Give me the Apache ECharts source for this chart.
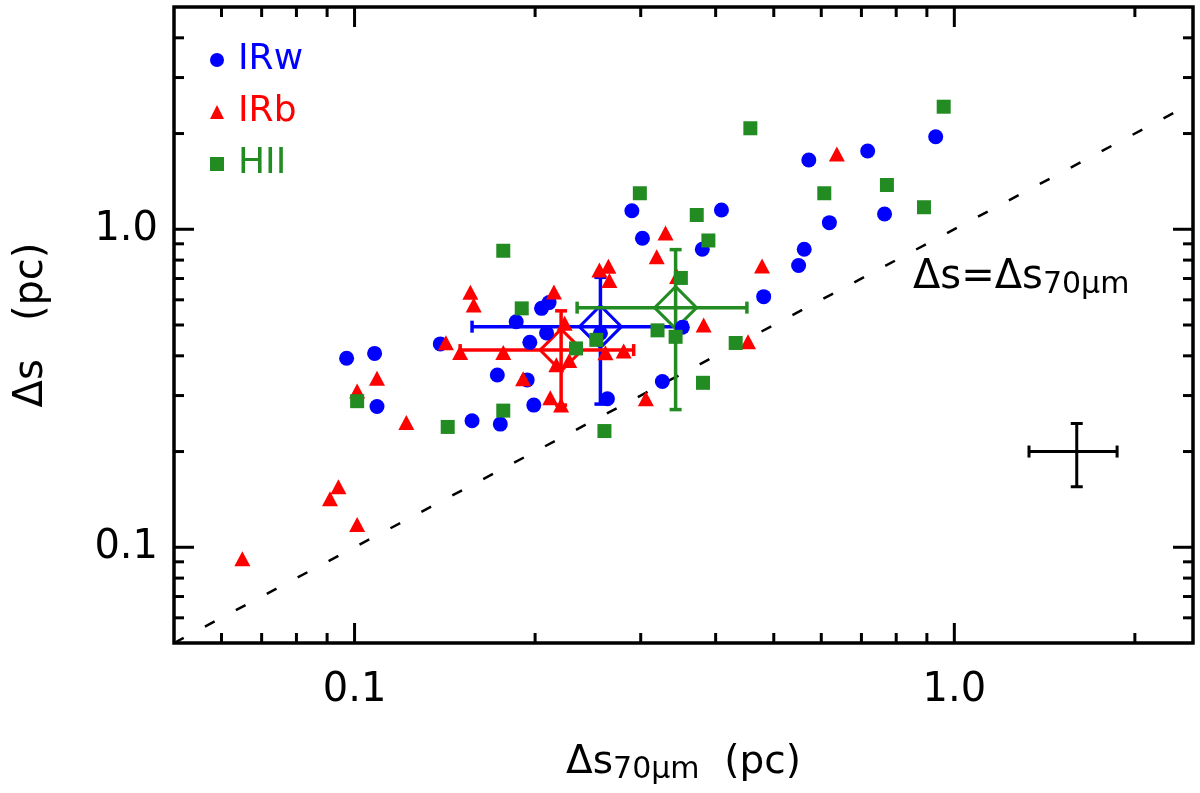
<!DOCTYPE html>
<html><head><meta charset="utf-8">
<script src="https://cdn.jsdelivr.net/npm/echarts@6/dist/echarts.min.js"></script>
<style>html,body{margin:0;padding:0;background:#fff}#c{width:1200px;height:793px}</style>
</head><body><div id="c"></div>
<script>
// ---- data ----
const irwX = [0.097,0.108,0.109,0.139,0.157,0.175,0.173,0.194,0.199,0.186,0.196,0.209,0.205,0.211,0.257,0.264,0.290,0.302,0.380,0.409,0.352,0.326,0.481,0.550,0.562,0.572,0.619,0.717,0.765,0.931];
const irwY = [0.393,0.407,0.277,0.436,0.250,0.244,0.348,0.336,0.280,0.512,0.441,0.472,0.564,0.588,0.471,0.293,1.144,0.937,0.865,1.150,0.492,0.332,0.614,0.769,0.865,1.652,1.049,1.763,1.117,1.955];
const irbX = [0.065,0.091,0.094,0.101,0.101,0.109,0.122,0.142,0.150,0.156,0.158,0.177,0.191,0.212,0.215,0.224,0.217,0.228,0.221,0.256,0.265,0.266,0.262,0.281,0.306,0.319,0.330,0.345,0.382,0.453,0.478,0.637];
const irbY = [0.092,0.142,0.155,0.118,0.310,0.340,0.247,0.440,0.410,0.634,0.578,0.410,0.339,0.295,0.635,0.506,0.375,0.387,0.280,0.745,0.765,0.690,0.409,0.414,0.293,0.820,0.974,0.710,0.500,0.443,0.767,1.725];
const hiiX = [0.101,0.143,0.177,0.177,0.190,0.234,0.253,0.261,0.299,0.372,0.389,0.350,0.320,0.343,0.381,0.432,0.457,0.607,0.772,0.890,0.960];
const hiiY = [0.288,0.239,0.269,0.856,0.564,0.422,0.449,0.232,1.298,1.109,0.922,0.703,0.481,0.459,0.329,0.439,2.078,1.298,1.378,1.173,2.429];
// group means with 1-sigma spreads (IRw, IRb, HII)
const groupNames = ['IRw','IRb','HII'];
const meanX = [0.257,0.221,0.343];
const meanY = [0.494,0.417,0.567];
const errX  = [0.100,0.071,0.108];
const errY  = [0.212,0.137,0.296];
// typical uncertainty cross
const typX = [1.60], typY = [0.20], typErrX = [0.268], typErrY = [0.045];
// one-to-one line
const oneToOneX = [0.05, 2.5];
// axis ticks
const xMajorTicks = [0.1, 1];
const xMinorTicks = [0.06,0.07,0.08,0.09,0.2,0.3,0.4,0.5,0.6,0.7,0.8,0.9,2];
const yMajorTicks = [0.1, 1];
const yMinorTicks = [0.06,0.07,0.08,0.09,0.2,0.3,0.4,0.5,0.6,0.7,0.8,0.9,2,3,4];
const tickLabels = {'0.1':'0.1','1':'1.0'};

const BLUE='#0000ff', RED='#ff0000', GREEN='#228b22';
const FONT='DejaVu Sans';
const zip=(a,b)=>a.map((v,i)=>[v,b[i]]);

function errRender(color, lw, diamond){
  return function(params, api){
    const x=api.value(0), y=api.value(1), ex=api.value(2), ey=api.value(3);
    const c=api.coord([x,y]), l=api.coord([x-ex,y]), r=api.coord([x+ex,y]);
    const t=api.coord([x,y+ey]), b=api.coord([x,y-ey]);
    const cap=6;
    const st={stroke:color,lineWidth:lw,fill:null};
    const ln=(x1,y1,x2,y2)=>({type:'line',shape:{x1,y1,x2,y2},style:st});
    const ch=[
      ln(l[0],l[1],r[0],r[1]), ln(t[0],t[1],b[0],b[1]),
      ln(l[0],l[1]-cap,l[0],l[1]+cap), ln(r[0],r[1]-cap,r[0],r[1]+cap),
      ln(t[0]-cap,t[1],t[0]+cap,t[1]), ln(b[0]-cap,b[1],b[0]+cap,b[1])
    ];
    if(diamond){
      const d=21;
      ch.push({type:'polygon',shape:{points:[[c[0],c[1]-d],[c[0]+d,c[1]],[c[0],c[1]+d],[c[0]-d,c[1]]]},
        style:{stroke:color,lineWidth:3,fill:null}});
    }
    return {type:'group',children:ch};
  };
}

function tickRender(params, api){
  const cs=params.coordSys;
  const L=cs.x, T=cs.y, R=cs.x+cs.width, B=cs.y+cs.height;
  const st={stroke:'#000',lineWidth:3};
  const ch=[];
  const ln=(x1,y1,x2,y2)=>ch.push({type:'line',shape:{x1,y1,x2,y2},style:st});
  const xt=(v,len)=>{const px=api.coord([v,1])[0]; ln(px,B,px,B-len); ln(px,T,px,T+len);};
  const yt=(v,len)=>{const py=api.coord([1,v])[1]; ln(L,py,L+len,py); ln(R,py,R-len,py);};
  xMajorTicks.forEach(v=>xt(v,20)); xMinorTicks.forEach(v=>xt(v,10));
  yMajorTicks.forEach(v=>yt(v,20)); yMinorTicks.forEach(v=>yt(v,10));
  return {type:'group',children:ch};
}

const fmt=v=>{
  const e=Math.log10(v);
  if(Math.abs(e-Math.round(e))>1e-6) return '';
  const k=String(Math.round(Math.pow(10,Math.round(e))*10)/10);
  return tickLabels[k]||'';
};

const groupColors=[BLUE,RED,GREEN];
const errSeries = groupNames.map((g,i)=>({
  type:'custom', name:g+' mean', clip:false, z:2,
  renderItem: errRender(groupColors[i],3.5,true),
  encode:{x:0,y:1},
  data:[[meanX[i],meanY[i],errX[i],errY[i]]]
}));

const chart=echarts.init(document.getElementById('c'),null,{renderer:'canvas'});
chart.setOption({
  animation:false,
  backgroundColor:'#fff',
  textStyle:{fontFamily:FONT},
  grid:{left:174,top:7,width:1019,height:636,show:true,borderColor:'#000',borderWidth:3.5,backgroundColor:'transparent'},
  xAxis:{type:'log',logBase:10,min:0.05,max:2.5,
    axisLine:{show:false},axisTick:{show:false},splitLine:{show:false},
    axisLabel:{formatter:fmt,fontSize:40,color:'#000',margin:28,fontFamily:FONT},
    name:'{a|Δs}{b|70μm}{a|  (pc)}',nameLocation:'middle',nameGap:100,
    nameTextStyle:{color:'#000',fontFamily:FONT,rich:{
      a:{fontSize:39,lineHeight:40,verticalAlign:'top',fontFamily:FONT,color:'#000'},
      b:{fontSize:30,lineHeight:40,padding:[14,0,0,0],fontFamily:FONT,color:'#000'}}}
  },
  yAxis:{type:'log',logBase:10,min:0.05,max:5,
    axisLine:{show:false},axisTick:{show:false},splitLine:{show:false},
    axisLabel:{formatter:fmt,fontSize:40,color:'#000',margin:16,fontFamily:FONT},
    name:'Δs   (pc)',nameLocation:'middle',nameGap:122,
    nameTextStyle:{color:'#000',fontFamily:FONT,fontSize:40}
  },
  legend:{orient:'vertical',left:205,top:35,itemWidth:14,itemHeight:14,itemGap:12,selectedMode:false,
    textStyle:{fontSize:36,fontFamily:FONT,lineHeight:40,padding:[0,0,0,9]},
    data:[{name:'IRw',textStyle:{color:BLUE}},{name:'IRb',textStyle:{color:RED}},{name:'HII',textStyle:{color:GREEN}}]
  },
  graphic:[{type:'text',left:913,top:256,z:10,style:{
    text:'{a|Δs=Δs}{b|70μm}',
    rich:{a:{fontSize:40,lineHeight:40,verticalAlign:'top',fontFamily:FONT,fill:'#000'},
          b:{fontSize:30,lineHeight:40,padding:[14,0,0,0],fontFamily:FONT,fill:'#000'}}
  }}],
  series:[
    {type:'custom',name:'ticks',clip:false,silent:true,z:1,renderItem:tickRender,encode:{x:0,y:1},data:[[1,1]]},
    {type:'line',name:'one-to-one',data:oneToOneX.map(v=>[v,v]),symbol:'none',z:1,silent:true,
      lineStyle:{color:'#000',width:2.5,type:[11,24]}},
    ...errSeries,
    {type:'custom',name:'typical error',clip:false,z:2,renderItem:errRender('#000',3,false),encode:{x:0,y:1},
      data:[[typX[0],typY[0],typErrX[0],typErrY[0]]]},
    {type:'scatter',name:'IRw',symbol:'circle',symbolSize:15,z:4,itemStyle:{color:BLUE,opacity:1},data:zip(irwX,irwY)},
    {type:'scatter',name:'IRb',symbol:'triangle',symbolSize:[16,15],z:4,itemStyle:{color:RED,opacity:1},data:zip(irbX,irbY)},
    {type:'scatter',name:'HII',symbol:'rect',symbolSize:14,z:4,itemStyle:{color:GREEN,opacity:1},data:zip(hiiX,hiiY)}
  ]
});
</script></body></html>
